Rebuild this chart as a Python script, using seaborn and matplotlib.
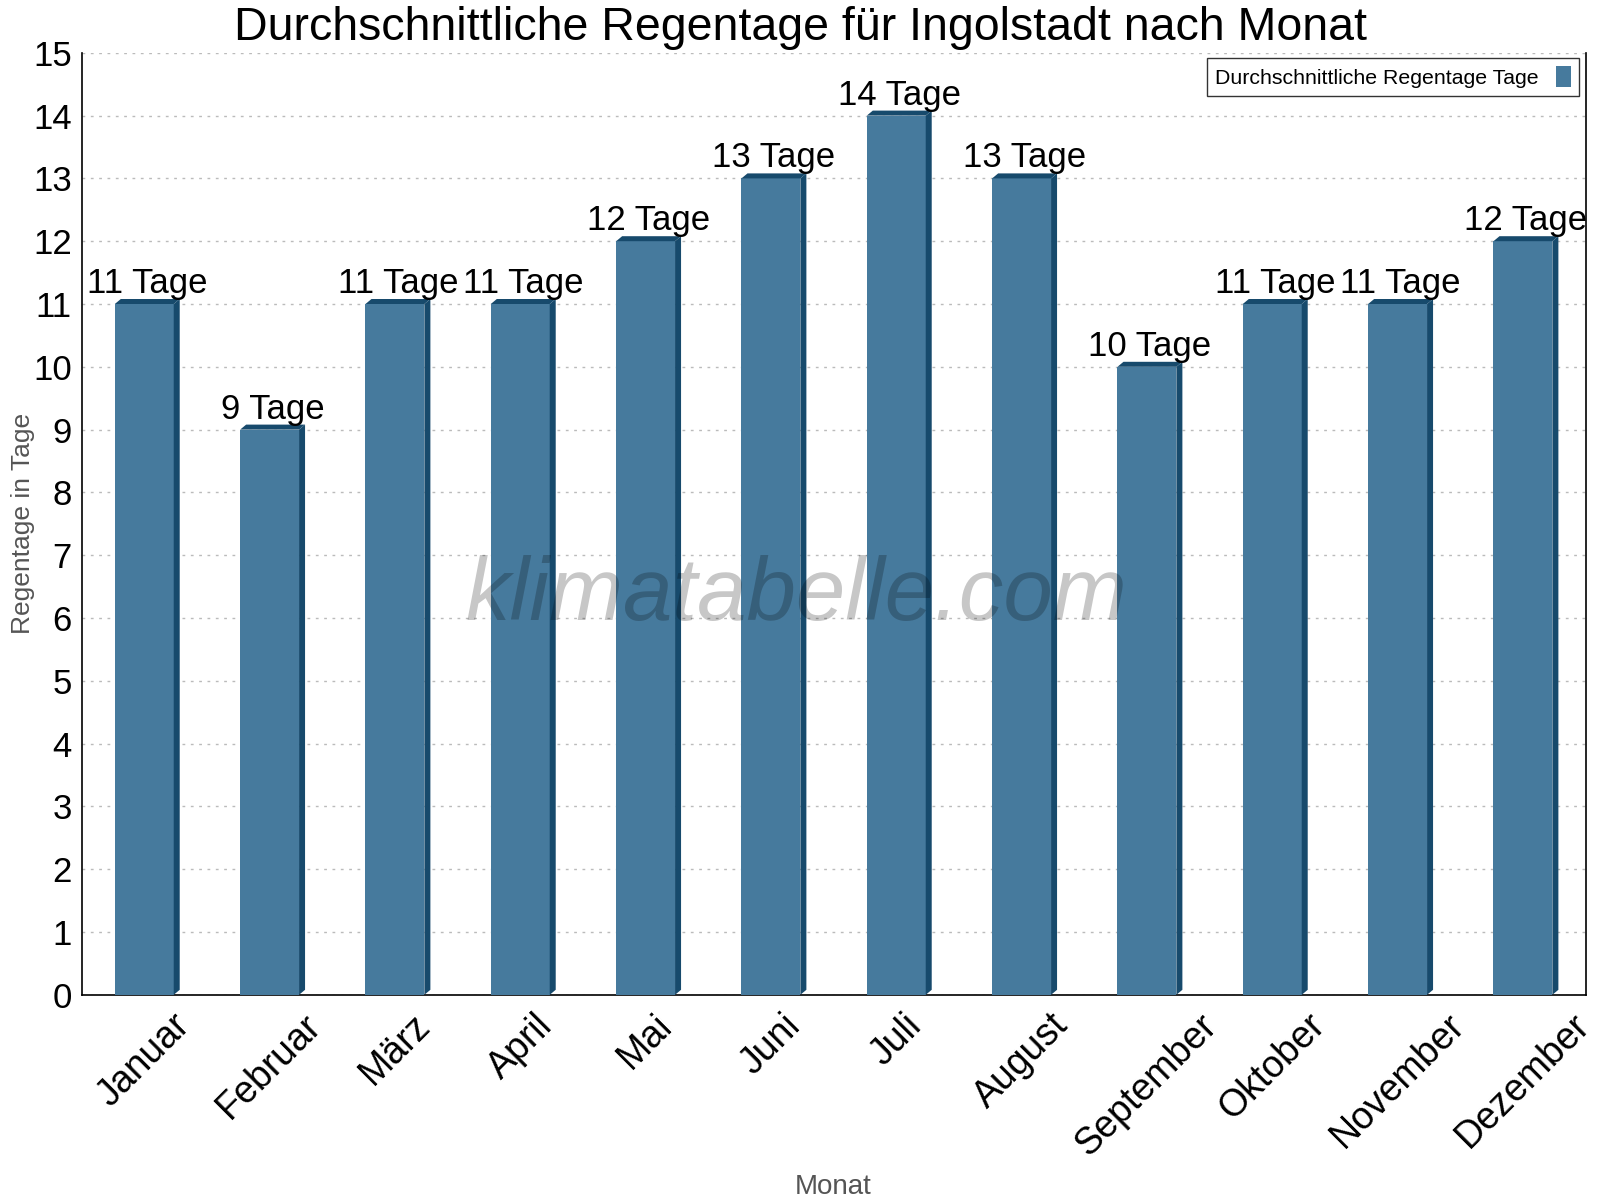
import numpy as np
import pandas as pd
import matplotlib
matplotlib.use("Agg")
import matplotlib.pyplot as plt
import seaborn as sns
from matplotlib.patches import Polygon
from matplotlib.ticker import MultipleLocator

months = ["Januar", "Februar", "März", "April", "Mai", "Juni", "Juli",
          "August", "September", "Oktober", "November", "Dezember"]
rain_days = [11, 9, 11, 11, 12, 13, 14, 13, 10, 11, 11, 12]
unit = "Tage"
series_name = "Durchschnittliche Regentage Tage"

face = "#467a9d"
dark = "#174a6c"

sns.set_style("white")
plt.rcParams["font.family"] = ["Liberation Sans", "DejaVu Sans"]
plt.rcParams["text.color"] = "black"
plt.rcParams["xtick.color"] = "black"
plt.rcParams["ytick.color"] = "black"

df = pd.DataFrame({"Monat": months, "Regentage": rain_days})

fig = plt.figure(figsize=(16, 12), dpi=100)
ax = fig.add_axes([0.051, 0.171, 0.94, 0.785])

sns.barplot(data=df, x="Monat", y="Regentage", color=face, saturation=1,
            width=0.47, label=series_name, ax=ax, zorder=3)

ax.set_xlim(-0.5, len(months) - 0.5)
ax.set_ylim(0, 15)
ax.yaxis.set_major_locator(MultipleLocator(1))

# pseudo 3d depth (pixels -> data units)
inv = ax.transData.inverted()
p0 = inv.transform((0, 0))
p1 = inv.transform((6, 5))
dx, dy = p1[0] - p0[0], p1[1] - p0[1]

for bar in ax.patches:
    bar.set_edgecolor("none")
    x0 = bar.get_x()
    x1 = x0 + bar.get_width()
    h = bar.get_height()
    side = Polygon([(x1, 0), (x1 + dx, dy), (x1 + dx, h + dy), (x1, h)],
                   closed=True, facecolor=dark, edgecolor="none", zorder=3)
    top = Polygon([(x0, h), (x1, h), (x1 + dx, h + dy), (x0 + dx, h + dy)],
                  closed=True, facecolor=dark, edgecolor="none", zorder=3)
    ax.add_patch(side)
    ax.add_patch(top)
    ax.text(x0 + bar.get_width() / 2 + dx / 2, h + dy * 0.8,
            f"{int(h)} {unit}", ha="center", va="bottom", fontsize=25,
            color="black", zorder=5)

ax.grid(axis="y", linestyle=(0, (2, 4)), color="#bbbbbb", lw=1, zorder=0)
ax.grid(axis="x", visible=False)

for s in ["left", "bottom", "right"]:
    ax.spines[s].set_visible(True)
    ax.spines[s].set_color("black")
    ax.spines[s].set_linewidth(1.2)
ax.spines["top"].set_visible(False)

ax.set_xticks(range(len(months)))
ax.set_xticklabels(months, rotation=45, ha="center", fontsize=27)
ax.set_xticks(np.arange(-0.5, len(months), 1), minor=True)
ax.tick_params(axis="x", which="major", length=0, pad=9)
ax.tick_params(axis="x", which="minor", length=10, direction="inout",
               width=1.2, color="black")
ax.tick_params(axis="y", which="major", length=10, direction="inout",
               width=1.2, color="black", labelsize=25, pad=2)

ax.set_title("Durchschnittliche Regentage für Ingolstadt nach Monat",
             fontsize=33.5, pad=9, color="black", x=0.478)
ax.set_xlabel("Monat", fontsize=20, color="#555555")
ax.set_ylabel("Regentage in Tage", fontsize=19, color="#555555")
ax.xaxis.set_label_coords(0.5, -0.19)
ax.yaxis.set_label_coords(-0.031, 0.5)

ax.text(0.475, 0.4225, "klimatabelle.com", transform=ax.transAxes,
        ha="center", va="center", fontsize=64, style="italic",
        color="black", alpha=0.22, zorder=6)

leg = ax.legend(loc="upper right", fontsize=15.3, markerfirst=False,
                fancybox=False, frameon=True, handlelength=0.7,
                handleheight=1.1, borderpad=0.4, handletextpad=0.8,
                bbox_to_anchor=(1.003, 1.006))
leg.get_frame().set_edgecolor("black")
leg.get_frame().set_linewidth(1)

fig.savefig("out.png", dpi=100)
